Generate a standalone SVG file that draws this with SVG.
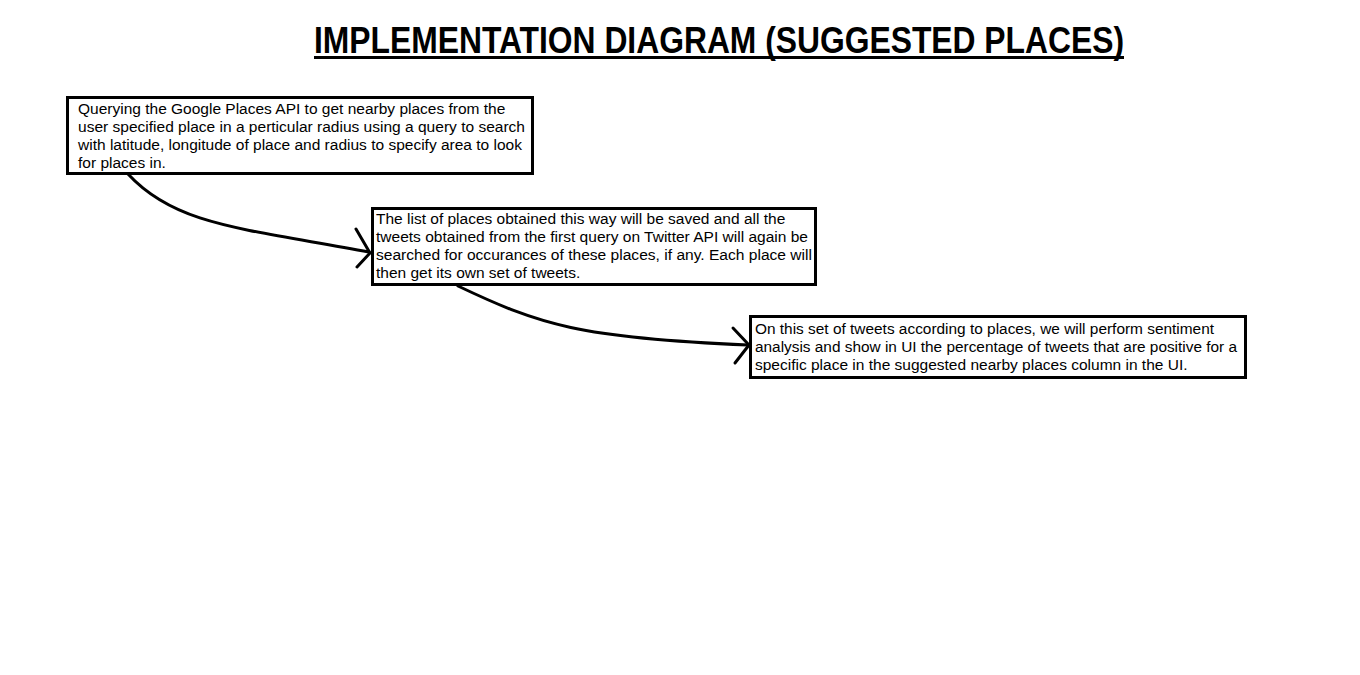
<svg xmlns="http://www.w3.org/2000/svg" width="1360" height="675" viewBox="0 0 1360 675">
<style>
.box{fill:#fff;stroke:#000;stroke-width:3}
.t{font-family:"Liberation Sans",Arial,sans-serif;font-size:15.5px;fill:#000}
.title{font-family:"Liberation Sans",Arial,sans-serif;font-size:36px;font-weight:bold;fill:#000}
.c{fill:none;stroke:#000;stroke-width:3;stroke-linecap:round;stroke-linejoin:round}
</style>
<rect width="1360" height="675" fill="#fff"/>
<g id="title">
<text class="title" x="314" y="53" textLength="810" lengthAdjust="spacingAndGlyphs">IMPLEMENTATION DIAGRAM (SUGGESTED PLACES)</text>
<line x1="314" y1="57.5" x2="1124" y2="57.5" stroke="#000" stroke-width="3"/>
</g>
<g id="connectors">
<path class="c" d="M128,174 C175,225 240,228 369,252"/>
<path class="c" d="M356,229 L370,253 L357,267"/>
<path class="c" d="M458,286 C540,325 580,338 748,345"/>
<path class="c" d="M733,328 L749,345 L735,363"/>
</g>
<g id="node1">
<rect class="box" x="67.5" y="97.5" width="465" height="76"/>
<text class="t" x="78" y="114">Querying the Google Places API to get nearby places from the</text>
<text class="t" x="78" y="132" textLength="447" lengthAdjust="spacingAndGlyphs">user specified place in a perticular radius using a query to search</text>
<text class="t" x="78" y="150" textLength="444" lengthAdjust="spacingAndGlyphs">with latitude, longitude of place and radius to specify area to look</text>
<text class="t" x="78" y="168">for places in.</text>
</g>
<g id="node2">
<rect class="box" x="372.5" y="208.5" width="443" height="76"/>
<text class="t" x="376" y="224">The list of places obtained this way will be saved and all the</text>
<text class="t" x="376" y="242" textLength="432" lengthAdjust="spacingAndGlyphs">tweets obtained from the first query on Twitter API will again be</text>
<text class="t" x="376" y="260" textLength="436" lengthAdjust="spacingAndGlyphs">searched for occurances of these places, if any. Each place will</text>
<text class="t" x="376" y="278">then get its own set of tweets.</text>
</g>
<g id="node3">
<rect class="box" x="750.5" y="316.5" width="495" height="61"/>
<text class="t" x="755" y="334" textLength="459" lengthAdjust="spacingAndGlyphs">On this set of tweets according to places, we will perform sentiment</text>
<text class="t" x="755" y="352" textLength="482" lengthAdjust="spacingAndGlyphs">analysis and show in UI the percentage of tweets that are positive for a</text>
<text class="t" x="755" y="370">specific place in the suggested nearby places column in the UI.</text>
</g>
</svg>
